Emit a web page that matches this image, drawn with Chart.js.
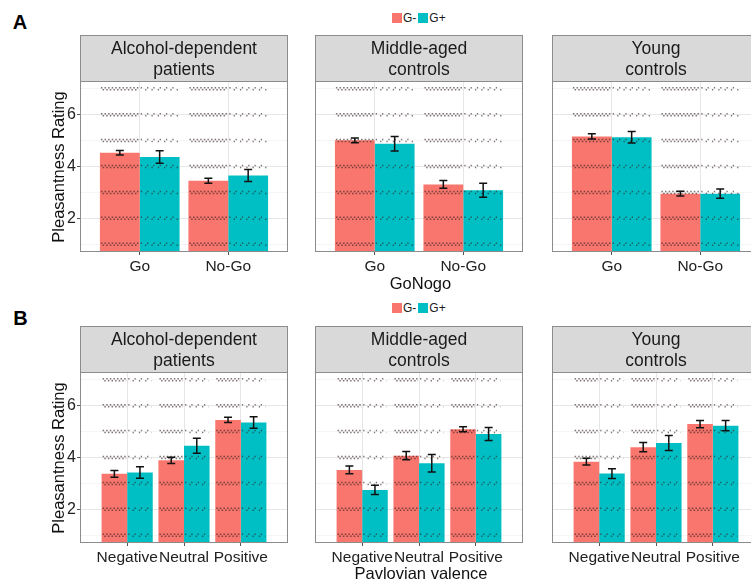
<!DOCTYPE html>
<html>
<head>
<meta charset="utf-8">
<script src="https://cdn.jsdelivr.net/npm/chart.js@4.4.1/dist/chart.umd.min.js"></script>
<style>
  html, body { margin: 0; padding: 0; background: #fff; }
  body { width: 751px; height: 580px; overflow: hidden; position: relative;
         font-family: "Liberation Sans", Arial, sans-serif; }
  canvas { position: absolute; }
  .t { position: absolute; white-space: nowrap; line-height: 1; transform: translate(-50%, -50%); color: #1a1a1a; }
  .tag { font-weight: bold; font-size: 20px; color: #000; }
  .ytitle { font-size: 16.5px; transform: translate(-50%, -50%) rotate(-90deg); color: #111; }
  .xtitle { font-size: 16.5px; color: #111; }
  .legend { position: absolute; display: flex; align-items: center; font-size: 12px; color: #1a1a1a; line-height: 1; transform: translateY(-50%); }
  .sw { width: 10px; height: 10px; display: inline-block; }
</style>
</head>
<body>
<script>
// ---- data ----
const facetNames = [['Alcohol-dependent', 'patients'], ['Middle-aged', 'controls'], ['Young', 'controls']];
const goNogoLabels = ['Go', 'No-Go'];
const valenceLabels = ['Negative', 'Neutral', 'Positive'];
const seriesNames = ['G-', 'G+'];
const yTickLabels = [2, 4, 6];
const ratingLevels = [1, 2, 3, 4, 5, 6, 7];

// mean pleasantness rating by Go/No-Go, one row per group
const goNogoGMinus   = [[4.53, 3.45], [5.01, 3.31], [5.16, 2.95]];
const goNogoGMinusSE = [[0.09, 0.10], [0.09, 0.15], [0.10, 0.09]];
const goNogoGPlus    = [[4.37, 3.65], [4.88, 3.08], [5.13, 2.95]];
const goNogoGPlusSE  = [[0.24, 0.23], [0.28, 0.27], [0.22, 0.18]];

// mean pleasantness rating by Pavlovian valence
const valenceGMinus   = [[3.37, 3.89, 5.45], [3.52, 4.07, 5.09], [3.84, 4.40, 5.29]];
const valenceGMinusSE = [[0.13, 0.12, 0.10], [0.15, 0.16, 0.10], [0.13, 0.18, 0.14]];
const valenceGPlus    = [[3.42, 4.45, 5.35], [2.75, 3.78, 4.91], [3.38, 4.56, 5.23]];
const valenceGPlusSE  = [[0.22, 0.29, 0.22], [0.18, 0.34, 0.25], [0.19, 0.29, 0.20]];

// ---- layout ----
const RED = '#F8766D', TEAL = '#00BFC4';
const FONT = '"Liberation Sans", Arial, sans-serif';
const PANEL_LEFT = [80, 315, 552];
const PANEL_W = 208;
const STRIP_TOP = [35, 326];
const STRIP_H = 46;
const PLOT_H = 171;
const XAXIS_H = 24;
const Y_AXIS_W = 26;

function addText(txt, x, y, cls) {
  const d = document.createElement('div');
  d.className = 't ' + (cls || '');
  d.textContent = txt;
  d.style.left = x + 'px';
  d.style.top = y + 'px';
  document.body.appendChild(d);
  return d;
}

function addLegend(x, y) {
  const lg = document.createElement('div');
  lg.className = 'legend';
  lg.style.left = x + 'px';
  lg.style.top = y + 'px';
  [RED, TEAL].forEach((c, i) => {
    const sw = document.createElement('span');
    sw.className = 'sw';
    sw.style.background = c;
    const lb = document.createElement('span');
    lb.textContent = seriesNames[i];
    lb.style.margin = '0 2px 0 1px';
    lg.appendChild(sw);
    lg.appendChild(lb);
  });
  document.body.appendChild(lg);
}

// individual ratings sit on the integer levels; drawn as faint dotted rows over each bar
const ratingDots = {
  id: 'ratingDots',
  afterDatasetsDraw(chart) {
    const { ctx, chartArea: a, scales: { y } } = chart;
    ctx.save();
    ctx.beginPath();
    ctx.rect(a.left, a.top, a.width, a.height);
    ctx.clip();
    ctx.strokeStyle = 'rgba(50,30,30,0.62)';
    ctx.lineWidth = 1.5;
    chart.data.datasets.forEach((ds, di) => {
      const dense = di === 0;
      chart.getDatasetMeta(di).data.forEach(bar => {
        const x0 = bar.x - bar.width / 2 + 1, x1 = bar.x + bar.width / 2 - 1;
        ratingLevels.forEach(level => {
          const py = y.getPixelForValue(level);
          [[-1, 0], [1, 1.9]].forEach(([dy, off]) => {
            ctx.setLineDash(dense ? [1.5, 2.1] : [1.3, 5]);
            ctx.lineDashOffset = off;
            ctx.beginPath();
            ctx.moveTo(x0, py + dy);
            ctx.lineTo(x1, py + dy);
            ctx.stroke();
          });
        });
      });
    });
    ctx.restore();
  }
};

// standard-error whiskers from each dataset's `errors` list
const errorBars = {
  id: 'errorBars',
  afterDatasetsDraw(chart) {
    const { ctx, scales: { y } } = chart;
    ctx.save();
    ctx.strokeStyle = '#111';
    ctx.lineWidth = 1.5;
    chart.data.datasets.forEach((ds, di) => {
      chart.getDatasetMeta(di).data.forEach((bar, i) => {
        const v = ds.data[i].y, e = ds.errors[i];
        const yt = y.getPixelForValue(v + e), yb = y.getPixelForValue(v - e);
        const cap = 4;
        ctx.beginPath();
        ctx.moveTo(bar.x, yt); ctx.lineTo(bar.x, yb);
        ctx.moveTo(bar.x - cap, yt); ctx.lineTo(bar.x + cap, yt);
        ctx.moveTo(bar.x - cap, yb); ctx.lineTo(bar.x + cap, yb);
        ctx.stroke();
      });
    });
    ctx.restore();
  }
};

// panel border and the grey facet strip on top
const facetFrame = {
  id: 'facetFrame',
  afterDraw(chart, args, opts) {
    const { ctx, chartArea: a } = chart;
    const l = Math.round(a.left), t = Math.round(a.top), w = Math.round(a.width), h = Math.round(a.height);
    ctx.save();
    ctx.strokeStyle = '#8c8c8c';
    ctx.lineWidth = 1;
    ctx.strokeRect(l + 0.5, t + 0.5, w - 1, h - 1);
    const sTop = t - STRIP_H;
    ctx.fillStyle = '#d9d9d9';
    ctx.fillRect(l, sTop, w, STRIP_H);
    ctx.strokeRect(l + 0.5, sTop + 0.5, w - 1, STRIP_H);
    ctx.fillStyle = '#1a1a1a';
    ctx.font = '17.5px ' + FONT;
    ctx.textAlign = 'center';
    ctx.textBaseline = 'middle';
    opts.lines.forEach((ln, k) => ctx.fillText(ln, l + w / 2, sTop + 14 + 21 * k));
    ctx.restore();
  }
};

function makePanel(row, col, cats, gm, gmSE, gp, gpSE) {
  const cv = document.createElement('canvas');
  const yw = col === 0 ? Y_AXIS_W : 0;
  const W = yw + PANEL_W + 2;
  const H = STRIP_H + PLOT_H + XAXIS_H;
  cv.width = W; cv.height = H;
  cv.style.left = (PANEL_LEFT[col] - yw) + 'px';
  cv.style.top = STRIP_TOP[row] + 'px';
  cv.style.width = W + 'px'; cv.style.height = H + 'px';
  document.body.appendChild(cv);

  const pad = cats.length === 2 ? 0.675 : 0.83;
  const toPoints = vals => vals.map((v, i) => ({ x: i + 1, y: v }));

  new Chart(cv, {
    type: 'bar',
    data: {
      datasets: [
        { label: seriesNames[0], data: toPoints(gm), errors: gmSE, backgroundColor: RED, borderWidth: 0 },
        { label: seriesNames[1], data: toPoints(gp), errors: gpSE, backgroundColor: TEAL, borderWidth: 0 }
      ]
    },
    options: {
      responsive: false,
      animation: false,
      devicePixelRatio: 1,
      layout: { padding: { top: STRIP_H, right: 2, left: 0, bottom: 0 } },
      datasets: { bar: { categoryPercentage: 0.9, barPercentage: 1.0 } },
      plugins: {
        legend: { display: false },
        tooltip: { enabled: false },
        facetFrame: { lines: facetNames[col] }
      },
      scales: {
        x: {
          type: 'linear',
          min: 1 - pad,
          max: cats.length + pad,
          offset: false,
          afterBuildTicks: s => { s.ticks = cats.map((c, i) => ({ value: i + 1 })); },
          afterFit: s => { s.height = XAXIS_H; },
          grid: { offset: false, color: '#e6e6e6', lineWidth: 1, drawTicks: true, tickLength: 3, tickColor: '#555' },
          border: { display: false },
          ticks: {
            autoSkip: false, maxRotation: 0, minRotation: 0, padding: 2,
            color: '#222', font: { family: FONT, size: 15.5 },
            callback: v => cats[Math.round(v) - 1] ?? ''
          }
        },
        y: {
          type: 'linear',
          min: 0.7,
          max: 7.3,
          afterBuildTicks: s => { s.ticks = ratingLevels.map(v => ({ value: v })); },
          afterFit: s => { s.width = yw; },
          grid: {
            color: c => yTickLabels.includes(c.tick && c.tick.value) ? '#e6e6e6' : '#f2f2f2',
            lineWidth: c => yTickLabels.includes(c.tick && c.tick.value) ? 1 : 0.8,
            drawTicks: col === 0,
            tickLength: 3,
            tickColor: c => yTickLabels.includes(c.tick && c.tick.value) ? '#555' : 'rgba(0,0,0,0)'
          },
          border: { display: false },
          ticks: {
            display: col === 0, padding: 1,
            color: '#222', font: { family: FONT, size: 16 },
            callback: v => yTickLabels.includes(v) ? String(v) : ''
          }
        }
      }
    },
    plugins: [ratingDots, errorBars, facetFrame]
  });
}

// Row A: Go / No-Go
for (let g = 0; g < 3; g++) {
  makePanel(0, g, goNogoLabels, goNogoGMinus[g], goNogoGMinusSE[g], goNogoGPlus[g], goNogoGPlusSE[g]);
}
// Row B: Pavlovian valence
for (let g = 0; g < 3; g++) {
  makePanel(1, g, valenceLabels, valenceGMinus[g], valenceGMinusSE[g], valenceGPlus[g], valenceGPlusSE[g]);
}

// titles, tags, legends
addText('A', 20, 21.5, 'tag');
addText('B', 20.5, 318, 'tag');
addLegend(392, 18);
addLegend(392, 308);
addText('Pleasantness Rating', 58, 166.5, 'ytitle');
addText('Pleasantness Rating', 58, 457.5, 'ytitle');
addText('GoNogo', 420.5, 283, 'xtitle');
addText('Pavlovian valence', 421, 573, 'xtitle');
</script>
</body>
</html>
